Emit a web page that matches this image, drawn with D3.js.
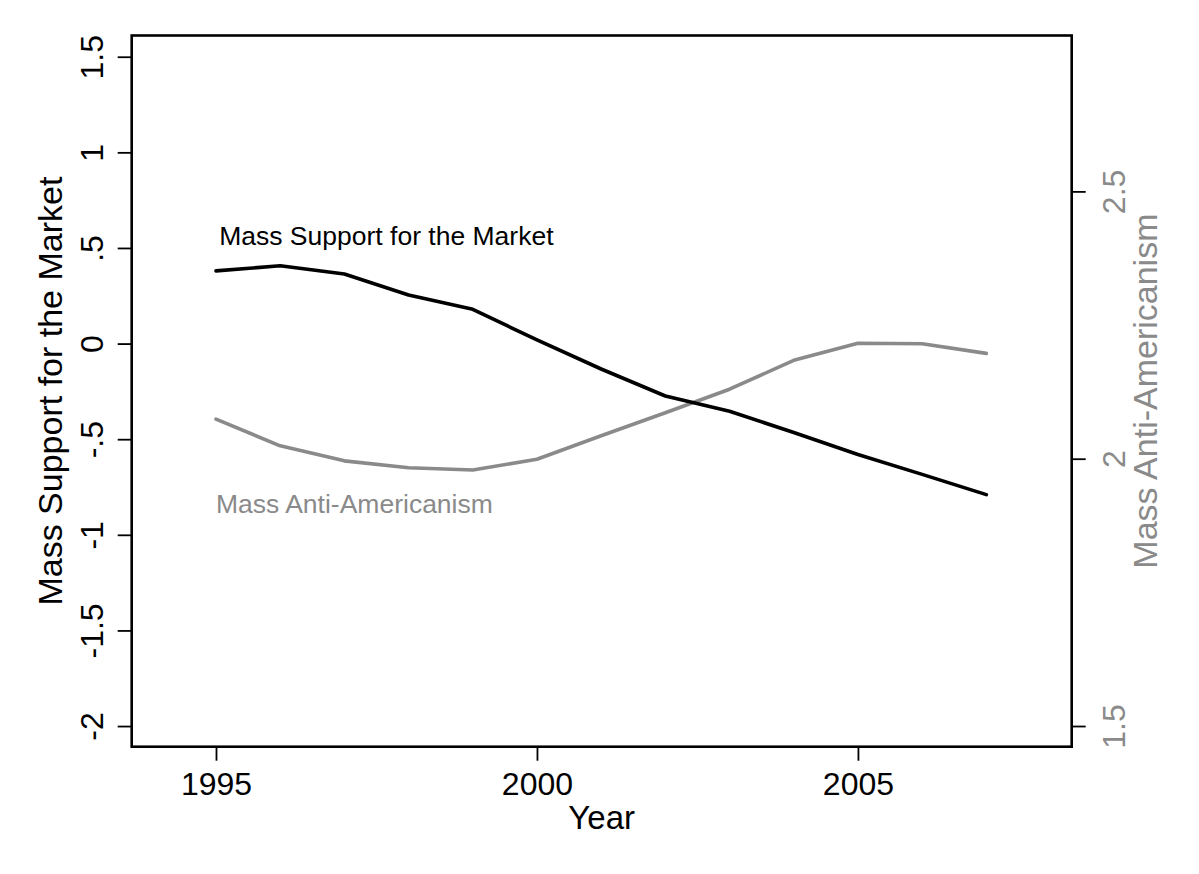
<!DOCTYPE html>
<html>
<head>
<meta charset="utf-8">
<script src="https://cdn.jsdelivr.net/npm/d3@7"></script>
<style>
  html, body { margin: 0; padding: 0; background: #fff; }
  svg { display: block; font-family: "Liberation Sans", Arial, Helvetica, sans-serif; }
</style>
</head>
<body>
<svg id="chart" width="1199" height="874"></svg>
<script>
// Yearly series
const years = [1995, 1996, 1997, 1998, 1999, 2000, 2001, 2002, 2003, 2004, 2005, 2006, 2007];
const marketSupport = [0.380, 0.407, 0.364, 0.254, 0.179, 0.019, -0.133, -0.274, -0.354, -0.465, -0.580, -0.684, -0.790];
const antiAmericanism = [2.074, 2.024, 1.996, 1.983, 1.979, 1.999, 2.043, 2.086, 2.130, 2.184, 2.216, 2.215, 2.197];

// Axis ticks and labels
const xTicks = [1995, 2000, 2005];
const leftTicks = [-2, -1.5, -1, -0.5, 0, 0.5, 1, 1.5];
const leftTickLabels = ["-2", "-1.5", "-1", "-.5", "0", ".5", "1", "1.5"];
const rightTicks = [1.5, 2, 2.5];
const rightTickLabels = ["1.5", "2", "2.5"];

// Series labels placed in data coordinates (year, left-axis value)
const seriesLabels = [
  { text: "Mass Support for the Market", year: 1995.05, value: 0.515, color: "#000" },
  { text: "Mass Anti-Americanism", year: 1995.0, value: -0.886, color: "#8a8a8a" }
];

const GRAY = "#8a8a8a";
const svg = d3.select("#chart");

const plot = { left: 131.7, right: 1071.7, top: 35.5, bottom: 746.7 };

const x = d3.scaleLinear().domain([1993.687, 2008.33]).range([plot.left, plot.right]);
const yL = d3.scaleLinear().domain([-2.108, 1.611]).range([plot.bottom, plot.top]);
const yR = d3.scaleLinear().domain([1.4613, 2.7916]).range([plot.bottom, plot.top]);

const tickLen = 14;

// Bottom axis
const gx = svg.append("g")
  .attr("transform", `translate(0,${plot.bottom})`)
  .call(d3.axisBottom(x).tickValues(xTicks).tickFormat(d3.format("d")).tickSize(tickLen).tickPadding(0));
gx.select(".domain").remove();
gx.selectAll(".tick line").attr("stroke", "#000").attr("stroke-width", 1.8);
gx.selectAll(".tick text")
  .attr("y", 48.3).attr("dy", null)
  .attr("font-size", 32).attr("fill", "#000");

// Left axis
const gl = svg.append("g")
  .attr("transform", `translate(${plot.left},0)`)
  .call(d3.axisLeft(yL).tickValues(leftTicks).tickFormat((d, i) => leftTickLabels[i]).tickSize(tickLen));
gl.select(".domain").remove();
gl.selectAll(".tick line").attr("stroke", "#000").attr("stroke-width", 1.8);
gl.selectAll(".tick text")
  .attr("x", 0).attr("y", -29).attr("dy", null)
  .attr("transform", "rotate(-90)")
  .attr("text-anchor", "middle")
  .attr("font-size", 32).attr("fill", "#000");

// Right axis
const gr = svg.append("g")
  .attr("transform", `translate(${plot.right},0)`)
  .call(d3.axisRight(yR).tickValues(rightTicks).tickFormat((d, i) => rightTickLabels[i]).tickSize(tickLen));
gr.select(".domain").remove();
gr.selectAll(".tick line").attr("stroke", "#000").attr("stroke-width", 1.8);
gr.selectAll(".tick text")
  .attr("x", 0).attr("y", 53.3).attr("dy", null)
  .attr("transform", "rotate(-90)")
  .attr("text-anchor", "middle")
  .attr("font-size", 32).attr("fill", GRAY);

// Plot frame
svg.append("rect")
  .attr("x", plot.left).attr("y", plot.top)
  .attr("width", plot.right - plot.left).attr("height", plot.bottom - plot.top)
  .attr("fill", "none").attr("stroke", "#000").attr("stroke-width", 2.6);

// Axis titles
const midY = (plot.top + plot.bottom) / 2;
svg.append("text")
  .attr("transform", `translate(62,${midY}) rotate(-90)`)
  .attr("text-anchor", "middle").attr("font-size", 34).attr("fill", "#000")
  .text("Mass Support for the Market");
svg.append("text")
  .attr("transform", `translate(1157,${midY}) rotate(-90)`)
  .attr("text-anchor", "middle").attr("font-size", 34).attr("fill", GRAY)
  .text("Mass Anti-Americanism");
svg.append("text")
  .attr("x", (plot.left + plot.right) / 2).attr("y", 829)
  .attr("text-anchor", "middle").attr("font-size", 33).attr("fill", "#000")
  .text("Year");

// Lines
const lineL = d3.line().x((d, i) => x(years[i])).y(d => yL(d));
const lineR = d3.line().x((d, i) => x(years[i])).y(d => yR(d));

svg.append("path").datum(antiAmericanism)
  .attr("d", lineR).attr("fill", "none")
  .attr("stroke", GRAY).attr("stroke-width", 3.6)
  .attr("stroke-linejoin", "round").attr("stroke-linecap", "round");

svg.append("path").datum(marketSupport)
  .attr("d", lineL).attr("fill", "none")
  .attr("stroke", "#000").attr("stroke-width", 3.6)
  .attr("stroke-linejoin", "round").attr("stroke-linecap", "round");

// In-plot series labels
svg.selectAll("text.series-label").data(seriesLabels).enter().append("text")
  .attr("class", "series-label")
  .attr("x", d => x(d.year)).attr("y", d => yL(d.value))
  .attr("font-size", 26.5).attr("fill", d => d.color)
  .text(d => d.text);
</script>
</body>
</html>
